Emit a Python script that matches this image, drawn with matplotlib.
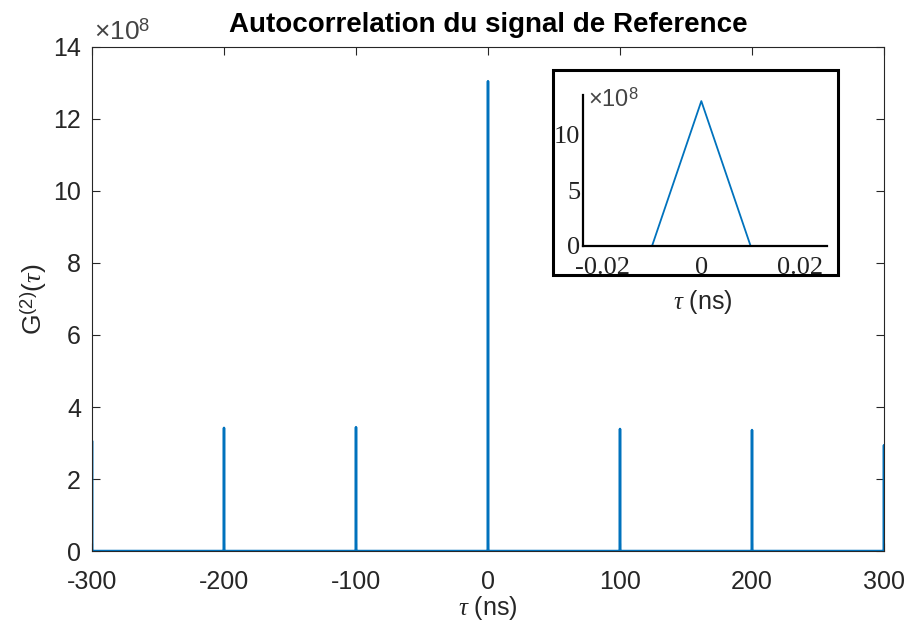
import matplotlib
matplotlib.use("Agg")
import numpy as np
import matplotlib.pyplot as plt
from matplotlib.patches import Rectangle
from matplotlib.ticker import FuncFormatter

plt.rcParams["font.family"] = ["Liberation Sans", "DejaVu Sans"]
plt.rcParams["mathtext.fontset"] = "custom"
plt.rcParams["mathtext.rm"] = "Liberation Sans"
plt.rcParams["mathtext.it"] = "Liberation Serif:italic"

# ── Data ──────────────────────────────────────────────────────────────────────
peak_pos = [-300, -200, -100, 0, 100, 200, 300]          # ns
peak_val = [3.06e8, 3.42e8, 3.44e8, 13.05e8, 3.39e8, 3.36e8, 2.94e8]
half_width = 0.01                                         # ns, triangle half base
x_lim = (-300, 300)
x_ticks = [-300, -200, -100, 0, 100, 200, 300]
y_ticks = [0, 2e8, 4e8, 6e8, 8e8, 10e8, 12e8, 14e8]

zoom_xlim = (-0.024, 0.0255)
zoom_ylim = (0, 13.6e8)
zoom_xticks = [-0.02, 0, 0.02]
zoom_yticks = [0, 5e8, 10e8]

BLUE = "#0072BD"
DARK = "#262626"

# build the spike train: each peak is a triangle of half-width half_width
tau = [x_lim[0]]
g2 = [0.0]
for p, h in zip(peak_pos, peak_val):
    if p - half_width > x_lim[0]:
        tau.append(p - half_width); g2.append(0.0)
    tau.append(p); g2.append(h)
    if p + half_width < x_lim[1]:
        tau.append(p + half_width); g2.append(0.0)
tau.append(x_lim[1]); g2.append(0.0)
tau = np.array(tau)
g2 = np.array(g2)

sci = FuncFormatter(lambda v, _: f"{v/1e8:g}")

fig = plt.figure(figsize=(9.09, 6.34), dpi=100)

# ── Main axes ────────────────────────────────────────────────────────────────
ax = fig.add_axes([0.1012, 0.1309, 0.8713, 0.795])
ax.plot(tau, g2, color=BLUE, linewidth=1.8)
ax.set_xlim(*x_lim)
ax.set_ylim(0, 14e8)
ax.set_xticks(x_ticks)
ax.set_xticklabels([str(t) for t in x_ticks])
ax.set_yticks(y_ticks)
ax.yaxis.set_major_formatter(sci)
ax.tick_params(direction="in", top=True, right=True, labelsize=18,
               colors=DARK, length=6, width=0.8, pad=8)
ax.tick_params(axis="x", pad=14)
for s in ax.spines.values():
    s.set_color(DARK)
    s.set_linewidth(0.8)
ax.set_title("Autocorrelation du signal de Reference", fontsize=20,
             fontweight="bold", pad=11)
ax.set_xlabel(r"$\tau$ (ns)", fontsize=18, color=DARK, labelpad=0)
ax.set_ylabel(r"G$^{(2)}$($\tau$)", fontsize=19, color=DARK, labelpad=3)
ax.text(0.002, 1.005, r"$\times$10$^{8}$", transform=ax.transAxes,
        fontsize=19, color="#444444", ha="left", va="bottom")

# ── Inset ────────────────────────────────────────────────────────────────────
fig.patches.append(Rectangle((553 / 909, 1 - 275 / 634), 285 / 909, 205 / 634,
                             transform=fig.transFigure, fill=False,
                             edgecolor="black", linewidth=2.2, zorder=5))

ins = fig.add_axes([0.6414, 0.612, 0.2684, 0.2382])
ins.plot(tau, g2, color=BLUE, linewidth=1.3)
ins.set_xlim(*zoom_xlim)
ins.set_ylim(*zoom_ylim)
ins.set_xticks(zoom_xticks)
ins.set_xticklabels(["-0.02", "0", "0.02"], family="Liberation Serif")
ins.set_yticks(zoom_yticks)
ins.yaxis.set_major_formatter(sci)
for lab in ins.get_yticklabels():
    lab.set_family("Liberation Serif")
ins.tick_params(axis="x", length=0, labelsize=19, pad=8, colors="#222222")
ins.tick_params(axis="y", length=0, labelsize=19, pad=2, colors="#222222")
ins.spines["top"].set_visible(False)
ins.spines["right"].set_visible(False)
for s in ("left", "bottom"):
    ins.spines[s].set_color("black")
    ins.spines[s].set_linewidth(1.6)
ins.text(0.02, 0.97, r"$\times$10$^{8}$", transform=ins.transAxes,
         fontsize=17, color="#444444", ha="left", va="center")
fig.text(703 / 909, 1 - 302 / 634, r"$\tau$ (ns)", fontsize=18,
         color=DARK, ha="center", va="center")

fig.savefig("out.png", dpi=100)
